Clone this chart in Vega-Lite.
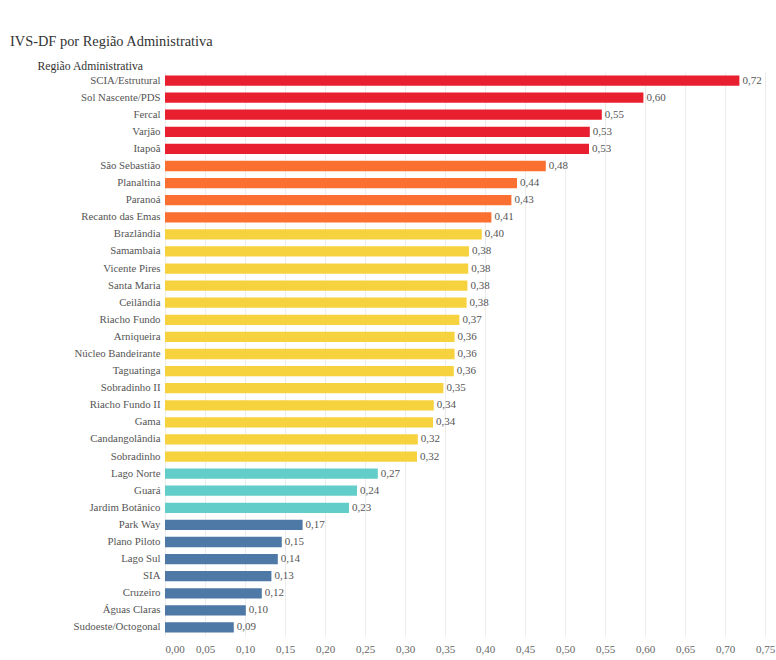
{
  "$schema": "https://vega.github.io/schema/vega-lite/v6.json",
  "autosize": {"type": "none"},
  "padding": {"left": 165, "top": 72, "right": 11, "bottom": 24},
  "width": 600,
  "height": 564,
  "background": "white",
  "title": {
    "text": "IVS-DF por Região Administrativa",
    "anchor": "start",
    "frame": "group",
    "dx": -155,
    "offset": 11,
    "font": "Liberation Serif",
    "fontSize": 14.4,
    "fontWeight": "normal",
    "color": "#333333"
  },
  "config": {
    "locale": {"number": {"decimal": ",", "thousands": ".", "grouping": [3], "currency": ["R$", ""]}},
    "view": {"stroke": null},
    "font": "Liberation Serif",
    "text": {"font": "Liberation Serif"}
  },
  "data": {
    "values": [
      {"ra": "SCIA/Estrutural", "ivs": 0.718, "faixa": "Muito alta"},
      {"ra": "Sol Nascente/PDS", "ivs": 0.598, "faixa": "Muito alta"},
      {"ra": "Fercal", "ivs": 0.546, "faixa": "Muito alta"},
      {"ra": "Varjão", "ivs": 0.531, "faixa": "Muito alta"},
      {"ra": "Itapoã", "ivs": 0.530, "faixa": "Muito alta"},
      {"ra": "São Sebastião", "ivs": 0.476, "faixa": "Alta"},
      {"ra": "Planaltina", "ivs": 0.440, "faixa": "Alta"},
      {"ra": "Paranoá", "ivs": 0.433, "faixa": "Alta"},
      {"ra": "Recanto das Emas", "ivs": 0.408, "faixa": "Alta"},
      {"ra": "Brazlândia", "ivs": 0.396, "faixa": "Média"},
      {"ra": "Samambaia", "ivs": 0.380, "faixa": "Média"},
      {"ra": "Vicente Pires", "ivs": 0.379, "faixa": "Média"},
      {"ra": "Santa Maria", "ivs": 0.378, "faixa": "Média"},
      {"ra": "Ceilândia", "ivs": 0.377, "faixa": "Média"},
      {"ra": "Riacho Fundo", "ivs": 0.368, "faixa": "Média"},
      {"ra": "Arniqueira", "ivs": 0.362, "faixa": "Média"},
      {"ra": "Núcleo Bandeirante", "ivs": 0.362, "faixa": "Média"},
      {"ra": "Taguatinga", "ivs": 0.361, "faixa": "Média"},
      {"ra": "Sobradinho II", "ivs": 0.348, "faixa": "Média"},
      {"ra": "Riacho Fundo II", "ivs": 0.336, "faixa": "Média"},
      {"ra": "Gama", "ivs": 0.335, "faixa": "Média"},
      {"ra": "Candangolândia", "ivs": 0.316, "faixa": "Média"},
      {"ra": "Sobradinho", "ivs": 0.315, "faixa": "Média"},
      {"ra": "Lago Norte", "ivs": 0.266, "faixa": "Baixa"},
      {"ra": "Guará", "ivs": 0.240, "faixa": "Baixa"},
      {"ra": "Jardim Botânico", "ivs": 0.230, "faixa": "Baixa"},
      {"ra": "Park Way", "ivs": 0.172, "faixa": "Muito baixa"},
      {"ra": "Plano Piloto", "ivs": 0.146, "faixa": "Muito baixa"},
      {"ra": "Lago Sul", "ivs": 0.141, "faixa": "Muito baixa"},
      {"ra": "SIA", "ivs": 0.133, "faixa": "Muito baixa"},
      {"ra": "Cruzeiro", "ivs": 0.121, "faixa": "Muito baixa"},
      {"ra": "Águas Claras", "ivs": 0.101, "faixa": "Muito baixa"},
      {"ra": "Sudoeste/Octogonal", "ivs": 0.086, "faixa": "Muito baixa"}
    ]
  },
  "encoding": {
    "y": {
      "field": "ra",
      "type": "nominal",
      "sort": {"field": "ivs", "order": "descending"},
      "scale": {"paddingInner": 0.4, "paddingOuter": 0.2},
      "axis": {
        "title": "Região Administrativa",
        "titleFont": "Liberation Serif",
        "titleFontSize": 11.7,
        "titleFontWeight": "normal",
        "titleColor": "#333333",
        "titleAngle": 0,
        "titleAlign": "left",
        "titleBaseline": "alphabetic",
        "titleX": -128,
        "titleY": -3,
        "labelFont": "Liberation Serif",
        "labelFontSize": 10.8,
        "labelColor": "#555555",
        "labelPadding": 5,
        "ticks": false,
        "domain": false,
        "grid": false
      }
    },
    "x": {
      "field": "ivs",
      "type": "quantitative",
      "scale": {"domain": [0, 0.75], "nice": false},
      "axis": {
        "title": null,
        "format": ".2f",
        "values": [0, 0.05, 0.1, 0.15, 0.2, 0.25, 0.3, 0.35, 0.4, 0.45, 0.5, 0.55, 0.6, 0.65, 0.7, 0.75],
        "labelFlush": false,
        "labelAlign": {"condition": {"test": "datum.value === 0", "value": "left"}, "value": "center"},
        "labelFont": "Liberation Serif",
        "labelFontSize": 11,
        "labelColor": "#666666",
        "labelPadding": 7,
        "ticks": false,
        "domain": false,
        "grid": true,
        "gridColor": "#ececec",
        "gridWidth": 1
      }
    }
  },
  "layer": [
    {
      "mark": {"type": "bar"},
      "encoding": {
        "color": {
          "field": "faixa",
          "type": "nominal",
          "scale": {
            "domain": ["Muito alta", "Alta", "Média", "Baixa", "Muito baixa"],
            "range": ["#e81f2f", "#fb6f31", "#f7d23f", "#63cdca", "#4e79a7"]
          },
          "legend": null
        }
      }
    },
    {
      "mark": {"type": "text", "align": "left", "baseline": "middle", "dx": 3, "font": "Liberation Serif", "fontSize": 11, "color": "#555555"},
      "encoding": {
        "text": {"field": "ivs", "type": "quantitative", "format": ".2f"}
      }
    }
  ]
}
